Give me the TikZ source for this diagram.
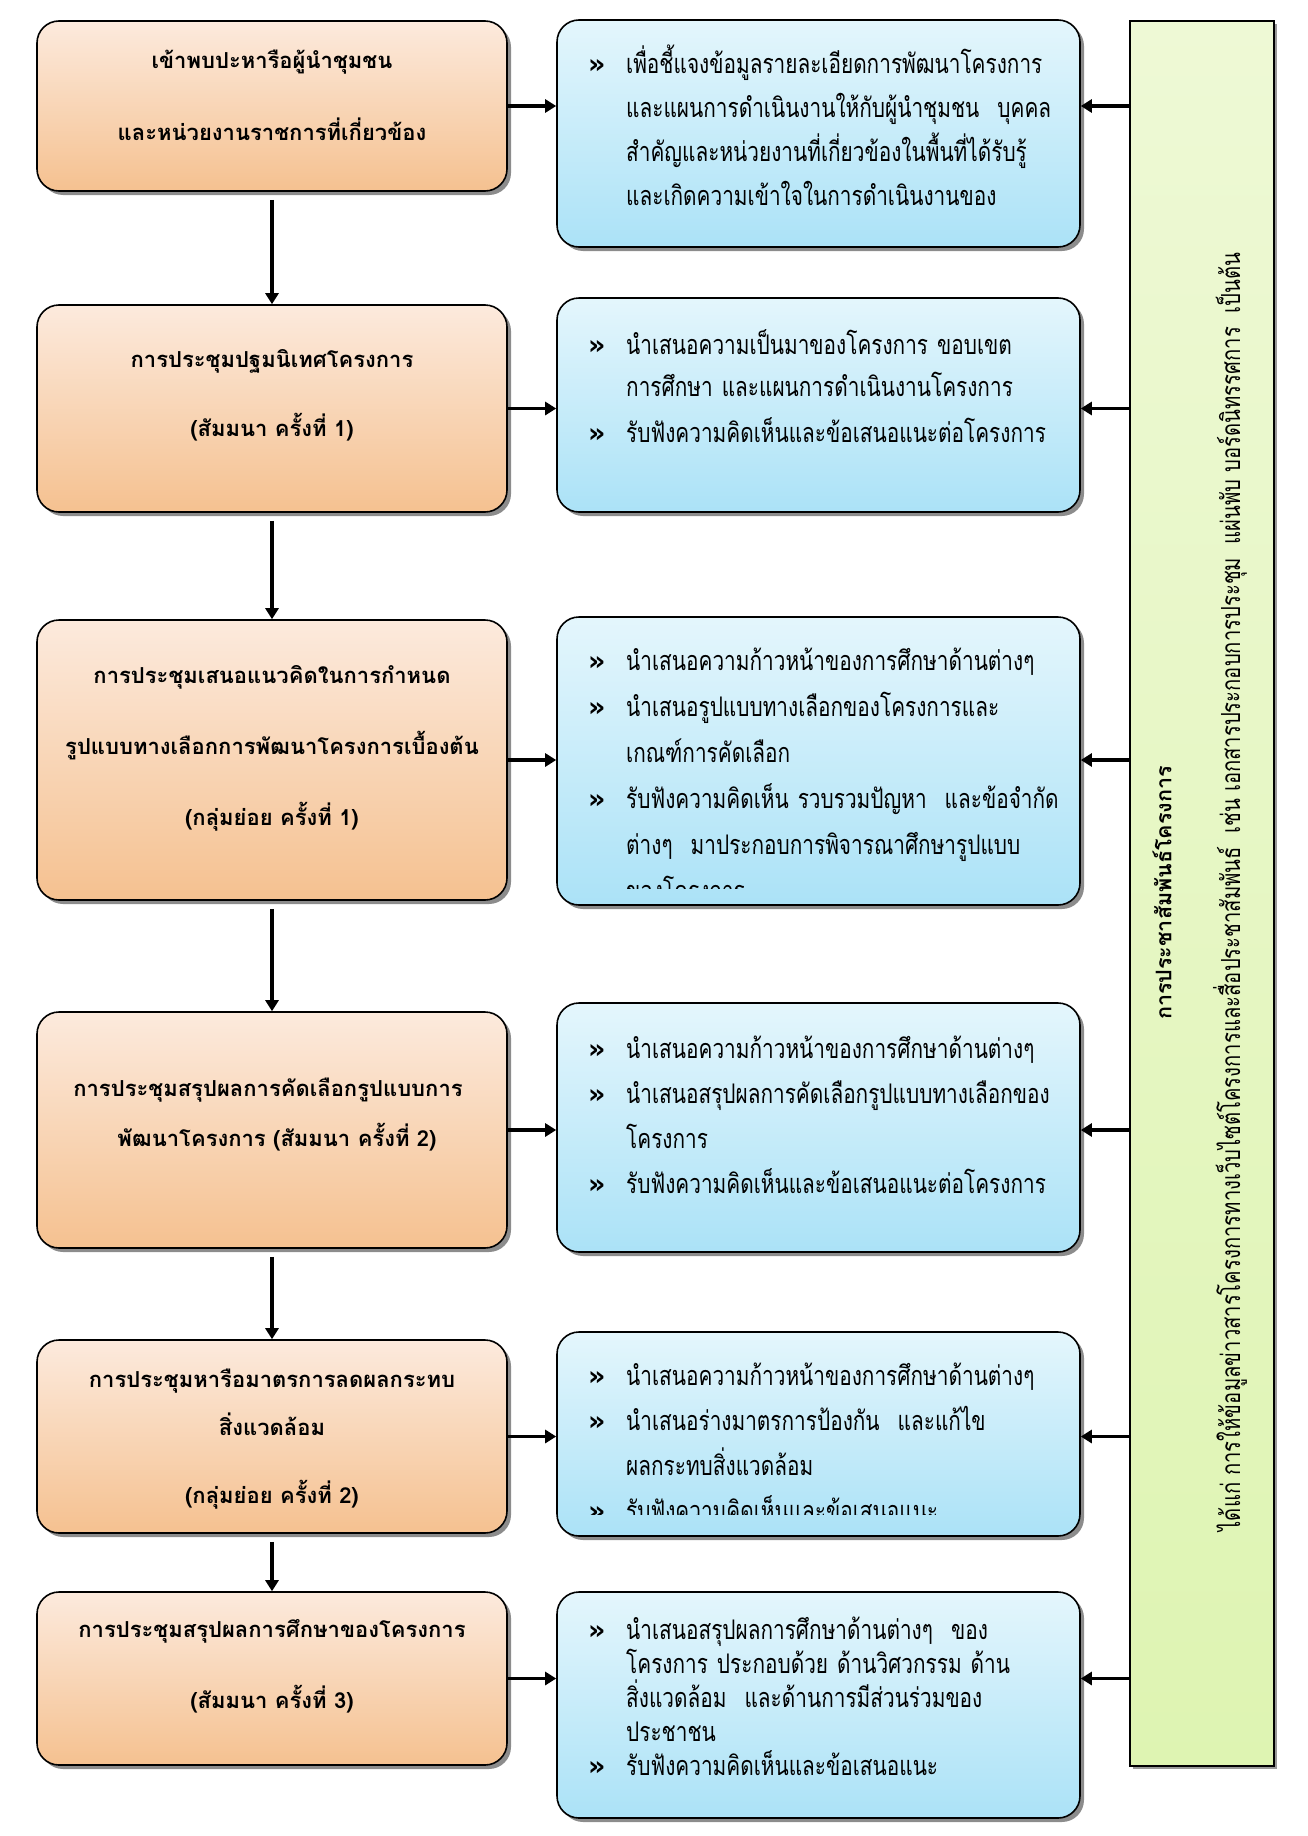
\documentclass[tikz,border=0pt]{standalone}
\usepackage{fontspec}
\usetikzlibrary{arrows.meta,shadows}
\newfontfamily\thaifont[Script=Thai]{Loma}
\newfontfamily\thaicond[Script=Thai,FakeStretch=0.77]{Loma}
\newfontfamily\bulletfont{DejaVu Sans}
\definecolor{orTop}{HTML}{FCEADD}
\definecolor{orBot}{HTML}{F5C190}
\definecolor{blTop}{HTML}{E4F6FC}
\definecolor{blBot}{HTML}{ABE2F7}
\definecolor{grTop}{HTML}{EEF9D5}
\definecolor{grBot}{HTML}{DEF4B2}
\newcommand\bl{\makebox[35pt][l]{\hspace*{-3pt}\bulletfont\bfseries\fontsize{27}{27}\selectfont »}}
\newcommand\ind{\hspace*{35pt}}
\begin{document}
\begin{tikzpicture}[x=1pt,y=-1pt,
  shadowed/.style={drop shadow={shadow xshift=4pt,shadow yshift=-4pt,fill=black,opacity=0.45}},
  leftbox/.style={shadowed,draw=black,line width=1.6pt,rounded corners=22pt,top color=orTop,bottom color=orBot,inner sep=0pt,minimum width=470pt},
  rightbox/.style={shadowed,draw=black,line width=1.6pt,rounded corners=22pt,top color=blTop,bottom color=blBot,inner sep=0pt,minimum width=523pt},
  lefttext/.style={font=\thaifont\bfseries\fontsize{22}{22}\selectfont,inner sep=0pt,anchor=base},
  righttext/.style={font=\thaicond\fontsize{27}{#1}\selectfont,inner sep=0pt,anchor=base west,text width=480pt,align=left},
  arr/.style={line width=3.6pt,-{Triangle[length=11pt,width=13pt]}},
]
\useasboundingbox (0,0) rectangle (1308,1836);
\fill[white] (0,0) rectangle (1308,1836);

% green side box
\node[drop shadow={shadow xshift=3pt,shadow yshift=-3pt,fill=black,opacity=0.4},draw=black,line width=1.4pt,top color=grTop,bottom color=grBot,minimum width=144pt,minimum height=1745pt,inner sep=0pt] (G) at (1202,893.5) {};
\node[rotate=90,font=\thaifont\bfseries\fontsize{21.5}{21.5}\selectfont,inner sep=0pt] (G1) at (1162,893) {การประชาสัมพันธ์โครงการ};
\node[rotate=90,font=\thaicond\fontsize{26.3}{26.3}\selectfont,inner sep=0pt] (G2) at (1230,892) {ได้แก่ การให้ข้อมูลข่าวสารโครงการทางเว็บไซต์โครงการและสื่อประชาสัมพันธ์ \ เช่น เอกสารประกอบการประชุม \ แผ่นพับ บอร์ดนิทรรศการ \ เป็นต้น};

% left boxes
\node[leftbox,minimum height=170pt] (L1) at (272,106) {};
\node[leftbox,minimum height=207pt] (L2) at (272,408.5) {};
\node[leftbox,minimum height=280pt] (L3) at (272,760) {};
\node[leftbox,minimum height=236pt] (L4) at (272,1130) {};
\node[leftbox,minimum height=193pt] (L5) at (272,1436.5) {};
\node[leftbox,minimum height=173pt] (L6) at (272,1678.5) {};

\node[lefttext] (L1a) at (272,68) {เข้าพบปะหารือผู้นำชุมชน};
\node[lefttext] (L1b) at (272,140) {และหน่วยงานราชการที่เกี่ยวข้อง};
\node[lefttext] (L2a) at (272,367) {การประชุมปฐมนิเทศโครงการ};
\node[lefttext] (L2b) at (272,436) {(สัมมนา ครั้งที่ 1)};
\node[lefttext] (L3a) at (272,683) {การประชุมเสนอแนวคิดในการกำหนด};
\node[lefttext] (L3b) at (272,754) {รูปแบบทางเลือกการพัฒนาโครงการเบื้องต้น};
\node[lefttext] (L3c) at (272,825) {(กลุ่มย่อย ครั้งที่ 1)};
\node[lefttext] (L4a) at (268,1096) {การประชุมสรุปผลการคัดเลือกรูปแบบการ};
\node[lefttext] (L4b) at (277,1146) {พัฒนาโครงการ (สัมมนา ครั้งที่ 2)};
\node[lefttext] (L5a) at (272,1387) {การประชุมหารือมาตรการลดผลกระทบ};
\node[lefttext] (L5b) at (272,1435) {สิ่งแวดล้อม};
\node[lefttext] (L5c) at (272,1503) {(กลุ่มย่อย ครั้งที่ 2)};
\node[lefttext] (L6a) at (272,1637) {การประชุมสรุปผลการศึกษาของโครงการ};
\node[lefttext] (L6b) at (272,1708) {(สัมมนา ครั้งที่ 3)};

% right boxes
\node[rightbox,minimum height=227pt] (R1) at (818.5,133.5) {};
\node[rightbox,minimum height=214pt] (R2) at (818.5,405) {};
\node[rightbox,minimum height=288pt] (R3) at (818.5,761) {};
\node[rightbox,minimum height=249pt] (R4) at (818.5,1127.5) {};
\node[rightbox,minimum height=204pt] (R5) at (818.5,1434) {};
\node[rightbox,minimum height=226pt] (R6) at (818.5,1705) {};

\node[righttext=44] (R1t) at (591,74) {\bl เพื่อชี้แจงข้อมูลรายละเอียดการพัฒนาโครงการ\\
\ind และแผนการดำเนินงานให้กับผู้นำชุมชน \ บุคคล\\
\ind สำคัญและหน่วยงานที่เกี่ยวข้องในพื้นที่ได้รับรู้\\
\ind และเกิดความเข้าใจในการดำเนินงานของ};
\node[righttext=42] (R2t) at (591,354) {\bl นำเสนอความเป็นมาของโครงการ ขอบเขต\\
\ind การศึกษา และแผนการดำเนินงานโครงการ\\[4pt]
\bl รับฟังความคิดเห็นและข้อเสนอแนะต่อโครงการ};
\begin{scope}
\clip (560,620) rectangle (1077,888);
\node[righttext=46] (R3t) at (591,670) {\bl นำเสนอความก้าวหน้าของการศึกษาด้านต่างๆ\\
\bl นำเสนอรูปแบบทางเลือกของโครงการและ\\
\ind เกณฑ์การคัดเลือก\\
\bl รับฟังความคิดเห็น รวบรวมปัญหา \ และข้อจำกัด\\
\ind ต่างๆ \ มาประกอบการพิจารณาศึกษารูปแบบ\\
\ind ของโครงการ};
\end{scope}
\node[righttext=45] (R4t) at (591,1058) {\bl นำเสนอความก้าวหน้าของการศึกษาด้านต่างๆ\\
\bl นำเสนอสรุปผลการคัดเลือกรูปแบบทางเลือกของ\\
\ind โครงการ\\
\bl รับฟังความคิดเห็นและข้อเสนอแนะต่อโครงการ};
\begin{scope}
\clip (560,1335) rectangle (1077,1514);
\node[righttext=45] (R5t) at (591,1385) {\bl นำเสนอความก้าวหน้าของการศึกษาด้านต่างๆ\\
\bl นำเสนอร่างมาตรการป้องกัน \ และแก้ไข\\
\ind ผลกระทบสิ่งแวดล้อม\\
\bl รับฟังความคิดเห็นและข้อเสนอแนะ};
\end{scope}
\node[righttext=34] (R6t) at (591,1639) {\bl นำเสนอสรุปผลการศึกษาด้านต่างๆ \ ของ\\
\ind โครงการ ประกอบด้วย ด้านวิศวกรรม ด้าน\\
\ind สิ่งแวดล้อม \ และด้านการมีส่วนร่วมของ\\
\ind ประชาชน\\
\bl รับฟังความคิดเห็นและข้อเสนอแนะ};

% arrows: left to right, and from the side box
\foreach \i in {1,...,6} {
  \draw[arr] (L\i.east) -- (L\i.east -| R\i.west);
  \draw[arr] (L\i.east -| G.west) -- (L\i.east -| R\i.east);
}
% vertical arrows
\foreach \i/\j in {1/2,2/3,3/4,4/5,5/6} {
  \draw[arr,shorten <=8pt] (L\i.south) -- (L\j.north);
}
\end{tikzpicture}
\end{document}
